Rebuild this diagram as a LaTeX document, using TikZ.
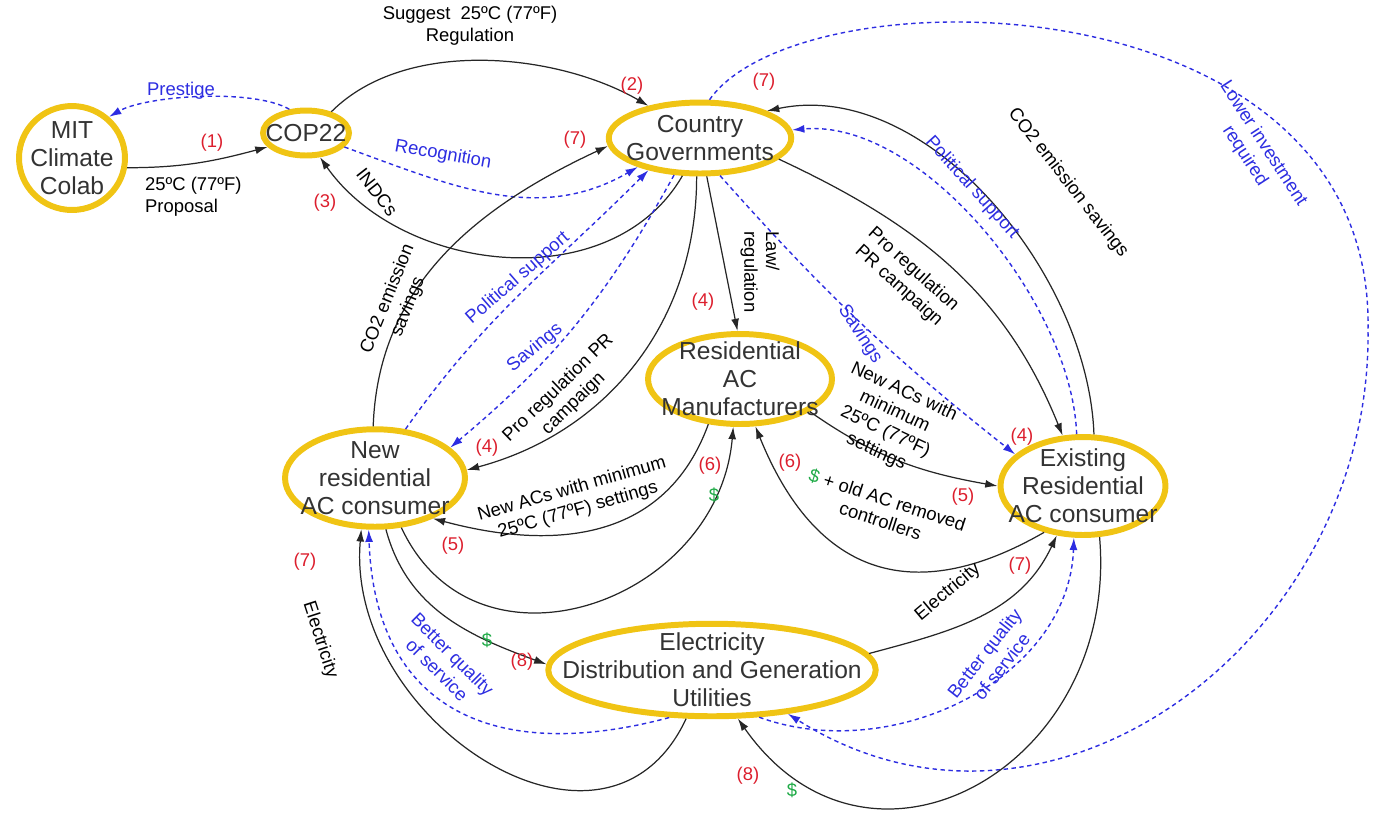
\documentclass[tikz,border=0pt]{standalone}
\usepackage{fontspec}
\setmainfont{Liberation Sans}
\usetikzlibrary{arrows.meta, shapes.geometric}
\definecolor{ringyellow}{RGB}{240,196,20}
\definecolor{flowblue}{RGB}{45,45,225}
\definecolor{numred}{RGB}{220,30,45}
\definecolor{usdgreen}{RGB}{30,170,70}

\begin{document}
\begin{tikzpicture}[>={Latex[length=7pt,width=4.5pt]}, x=0.02cm, y=0.02cm,
    actor/.style={ellipse, draw=ringyellow, line width=3.4pt, inner sep=-1cm,
        align=center, text=black!80, font=\fontsize{14}{16}\selectfont},
    flow/.style={->, line width=0.7pt, black!85},
    soft/.style={->, line width=0.8pt, flowblue, dash pattern=on 2.5pt off 2pt},
    lbl/.style={align=center, inner sep=1pt, font=\fontsize{10.5}{12.5}\selectfont},
    blbl/.style={lbl, text=flowblue},
    num/.style={lbl, text=numred},
    usd/.style={lbl, text=usdgreen}]

    \useasboundingbox (0,0) rectangle (1393,-816);

    \node[actor, minimum width=2.12cm, minimum height=2.08cm] (mit) at (72,-158) {MIT\\Climate\\Colab};
    \node[actor, minimum width=1.72cm, minimum height=0.9cm] (cop) at (306,-133) {COP22};
    \node[actor, minimum width=3.65cm, minimum height=1.42cm] (gov) at (700,-138) {Country\\Governments};
    \node[actor, minimum width=3.68cm, minimum height=1.8cm] (man) at (740,-379) {Residential\\AC\\Manufacturers};
    \node[actor, minimum width=3.6cm, minimum height=1.95cm] (newc) at (375,-478) {New\\residential\\AC consumer};
    \node[actor, minimum width=3.3cm, minimum height=1.96cm] (exist) at (1083,-486) {Existing\\Residential\\AC consumer};
    \node[actor, minimum width=6.55cm, minimum height=1.85cm] (util) at (712,-670) {Electricity\\Distribution and Generation\\Utilities};
    \coordinate (arcR) at (1368,-330);

    \draw[flow] (mit.-10) to[out=0,in=195] (cop.200);
    \draw[soft] (cop.125) to[out=150,in=30,looseness=0.6] (mit.48);
    \draw[flow] (cop.40) to[out=45,in=150,looseness=0.85] (gov.148);
    \draw[soft] (cop.-20) to[out=-20,in=210] (gov.205);
    \draw[flow] (gov.-115) to[out=-120,in=-55] (cop.-60);

    \draw[flow] (newc.92) to[out=88,in=205] (gov.185);
    \draw[soft] (newc.58) to[out=55,in=225] (gov.212);
    \draw[soft] (gov.235) to[out=-119,in=40] (newc.22);
    \draw[flow] (gov.-95) to[out=-90,in=15] (newc.5);
    \draw[flow] (gov.-80) -- (man.93);
    \draw[soft] (gov.-62) to[bend right=5] (exist.155);
    \draw[flow] (gov.-15) to[out=-25,in=112] (exist.112);
    \draw[soft] (exist.97) to[out=92,in=5,looseness=0.8] (gov.5);
    \draw[flow] (exist.78) to[out=92,in=12,looseness=0.9] (gov.22);
    \draw[soft] (gov.76) .. controls (800,30) and (1375,25) .. (arcR)
        .. controls (1372,-640) and (1050,-880) .. (util.-30);

    \draw[flow] (man.-125) to[out=-110,in=-15,looseness=1.1] (newc.-35);
    \draw[flow] (newc.-62) to[out=-65,in=-95,looseness=1.3] (man.-98);
    \draw[flow] (man.-25) to[out=-35,in=170] (exist.west);
    \draw[flow] (exist.-130) to[out=-150,in=-68,looseness=1.3] (man.-72);
    \draw[flow] (newc.-78) to[out=-75,in=160] (util.178);
    \draw[flow] (util.-118) to[out=-115,in=-95,looseness=1.3] (newc.-105);
    \draw[soft] (util.-132) to[out=-165,in=-88,looseness=1.3] (newc.-97);
    \draw[flow] (util.6) to[out=15,in=-115] (exist.-118);
    \draw[soft] (util.-45) to[out=-20,in=-92] (exist.-100);
    \draw[flow] (exist.-72) to[out=-85,in=-55,looseness=1.45] (util.-62);

    \node[num] (n1) at (212,-143) {(1)};
    \node[lbl, anchor=west, align=left] (prop) at (143,-197) {25ºC (77ºF)\\Proposal};
    \node[blbl] (prest) at (181,-91) {Prestige};
    \node[lbl] (sugg) at (470,-26) {Suggest~~25ºC (77ºF)\\Regulation};
    \node[num] (n2) at (632,-86) {(2)};
    \node[blbl, rotate=-10] (recog) at (443,-155) {Recognition};
    \node[num] (n7a) at (575,-140) {(7)};
    \node[num] (n3) at (325,-203) {(3)};
    \node[lbl, rotate=-52] (indc) at (377,-192) {INDCs};
    \node[num] (n7b) at (764,-82) {(7)};
    \node[blbl, rotate=-57] (lowinv) at (1254,-150) {Lower investment\\required};
    \node[lbl, rotate=-52] (co2r) at (1068,-183) {CO2 emission savings};
    \node[blbl, rotate=-48] (polr) at (972,-188) {Political support};
    \node[lbl, rotate=-42] (pror) at (906,-278) {Pro regulation\\PR campaign};
    \node[lbl, rotate=-90, align=left] (law) at (760,-272) {Law/\\regulation};
    \node[blbl, rotate=-57] (savr) at (860,-334) {Savings};
    \node[num] (n4a) at (703,-302) {(4)};
    \node[lbl, rotate=68] (co2l) at (398,-303) {CO2 emission\\savings};
    \node[blbl, rotate=41] (poll) at (518,-278) {Political support};
    \node[blbl, rotate=40] (savl) at (535,-348) {Savings};
    \node[lbl, rotate=44] (prol) at (566,-396) {Pro regulation PR\\campaign};
    \node[num] (n4b) at (487,-448) {(4)};
    \node[lbl, rotate=16] (newl) at (575,-500) {New ACs with minimum\\25ºC (77ºF) settings};
    \node[num] (n5a) at (453,-546) {(5)};
    \node[num] (n6a) at (710,-466) {(6)};
    \node[usd] (usd1) at (714,-495) {\$};
    \node[num] (n6b) at (790,-463) {(6)};
    \node[lbl, rotate=-18] (oldac) at (884,-510) {{\color{usdgreen}\$} + old AC removed\\controllers};
    \node[lbl, rotate=-25] (newr) at (890,-422) {New ACs with\\minimum\\25ºC (77ºF)\\settings};
    \node[num] (n4c) at (1022,-437) {(4)};
    \node[num] (n5b) at (963,-497) {(5)};
    \node[num] (n7c) at (305,-562) {(7)};
    \node[lbl, rotate=-72] (elecl) at (320,-640) {Electricity};
    \node[blbl, rotate=-45] (bqsl) at (445,-662) {Better quality\\of service};
    \node[usd] (usd2) at (487,-640) {\$};
    \node[num] (n8a) at (522,-662) {(8)};
    \node[num] (n7d) at (1020,-566) {(7)};
    \node[lbl, rotate=40] (elecr) at (948,-592) {Electricity};
    \node[blbl, rotate=52] (bqsr) at (993,-660) {Better quality\\of service};
    \node[num] (n8b) at (748,-776) {(8)};
    \node[usd] (usd3) at (792,-790) {\$};
\end{tikzpicture}
\end{document}
